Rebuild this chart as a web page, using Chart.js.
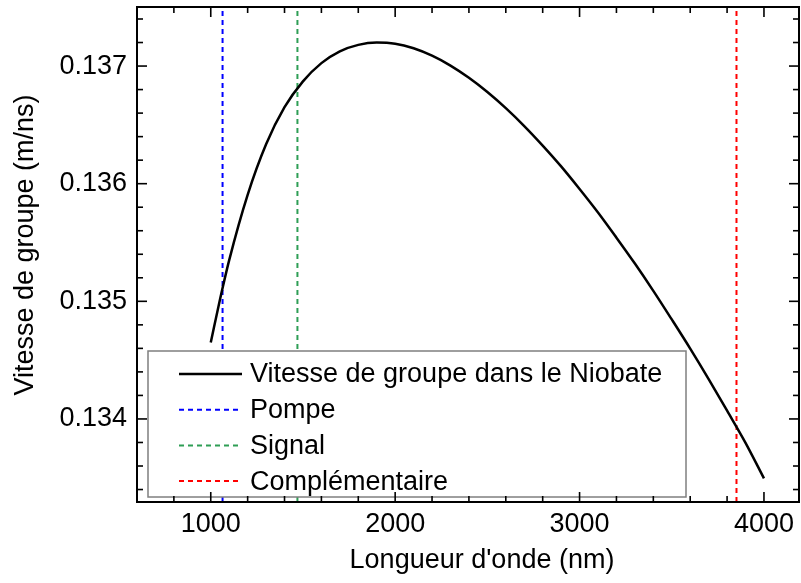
<!DOCTYPE html>
<html><head><meta charset="utf-8">
<script src="https://cdn.jsdelivr.net/npm/chart.js@4.4.0/dist/chart.umd.min.js"></script>
<style>html,body{margin:0;padding:0;background:#fff;}#wrap{width:801px;height:583px;}</style>
</head><body><div id="wrap"><canvas id="c" width="801" height="583"></canvas></div>
<script>
// ---- data ----
const wavelengths = [1000,1050,1100,1200,1300,1400,1500,1600,1700,1800,1900,2000,2100,2200,2300,2400,2500,2600,2700,2800,2900,3000,3100,3200,3300,3400,3500,3600,3700,3800,3900,4000];
const groupVelocity = [0.134650,0.135015,0.135350,0.135905,0.136335,0.136650,0.136870,0.137025,0.137125,0.137180,0.137200,0.137190,0.137151,0.137088,0.137004,0.136900,0.136779,0.136642,0.136490,0.136324,0.136147,0.135955,0.135755,0.135541,0.135321,0.135089,0.134846,0.134598,0.134339,0.134070,0.133797,0.133495];
const pumpWavelength = 1064;
const signalWavelength = 1470;
const idlerWavelength = 3851;
const seriesLabels = ['Vitesse de groupe dans le Niobate','Pompe','Signal','Complémentaire'];
const xTickValues = [1000,2000,3000,4000];
const yTickValues = [0.134,0.135,0.136,0.137];
const xTitle = "Longueur d'onde (nm)";
const yTitle = 'Vitesse de groupe (m/ns)';

const X_MIN = 600, X_MAX = 4190, Y_MIN = 0.133294, Y_MAX = 0.137502;
const FONT = '"Liberation Sans", Arial, sans-serif';
const FS = 27;

function vline(x){ return [{x:x,y:Y_MIN},{x:x,y:Y_MAX}]; }

const curve = wavelengths.map((w,i)=>({x:w,y:groupVelocity[i]}));

const framePlugin = {
  id:'frame',
  afterDatasetsDraw(chart){
    const ctx = chart.ctx;
    ctx.save();
    const bx=148, by=351, bw=538, bh=146;
    ctx.fillStyle='#fff'; ctx.fillRect(bx,by,bw,bh);
    ctx.strokeStyle='#7f7f7f'; ctx.lineWidth=1.5; ctx.setLineDash([]);
    ctx.strokeRect(bx,by,bw,bh);
    ctx.font = FS+'px '+FONT; ctx.textBaseline='middle'; ctx.textAlign='left';
    chart.data.datasets.forEach((ds,i)=>{
      const y = 374 + i*35.7;
      ctx.strokeStyle = ds.borderColor; ctx.lineWidth = ds.borderWidth;
      ctx.setLineDash(ds.borderDash||[]);
      ctx.beginPath(); ctx.moveTo(179,y); ctx.lineTo(242,y); ctx.stroke();
      ctx.setLineDash([]);
      ctx.fillStyle='#000'; ctx.fillText(ds.label, 250, y+1);
    });
    ctx.restore();
  },
  afterDraw(chart){
    const ctx = chart.ctx, a = chart.chartArea;
    const xs = chart.scales.x, ys = chart.scales.y;
    ctx.save();
    ctx.strokeStyle='#000'; ctx.setLineDash([]);
    ctx.lineWidth=1.6;
    const tick = (x1,y1,x2,y2)=>{ctx.beginPath();ctx.moveTo(x1,y1);ctx.lineTo(x2,y2);ctx.stroke();};
    for(let v=800; v<X_MAX; v+=200){
      const major = xTickValues.includes(v);
      const L = major?10:6, px = xs.getPixelForValue(v);
      tick(px,a.bottom,px,a.bottom-L);
      tick(px,a.top,px,a.top+L);
    }
    for(let k=0;;k++){
      const v = 0.1334 + k*0.0002; if(v>Y_MAX) break;
      const major = yTickValues.some(t=>Math.abs(t-v)<1e-7);
      const L = major?10:6, py = ys.getPixelForValue(v);
      tick(a.left,py,a.left+L,py);
      tick(a.right,py,a.right-L,py);
    }
    ctx.lineWidth=2;
    ctx.strokeRect(a.left,a.top,a.right-a.left,a.bottom-a.top);
    ctx.fillStyle='#000'; ctx.font = FS+'px '+FONT;
    ctx.textAlign='center'; ctx.textBaseline='middle';
    ctx.fillText(xTitle, 482, 561);
    ctx.translate(26,245); ctx.rotate(-Math.PI/2);
    ctx.fillText(yTitle, 0, 0);
    ctx.restore();
  }
};

new Chart(document.getElementById('c'), {
  type:'scatter',
  data:{datasets:[
    {label:seriesLabels[0], data:curve, showLine:true, borderColor:'#000', borderWidth:2.5, pointRadius:0, cubicInterpolationMode:'monotone', fill:false},
    {label:seriesLabels[1], data:vline(pumpWavelength), showLine:true, borderColor:'#0000ff', borderWidth:2, borderDash:[5,4], pointRadius:0},
    {label:seriesLabels[2], data:vline(signalWavelength), showLine:true, borderColor:'#2e9e55', borderWidth:2, borderDash:[5,4], pointRadius:0},
    {label:seriesLabels[3], data:vline(idlerWavelength), showLine:true, borderColor:'#ff0000', borderWidth:2, borderDash:[5,4], pointRadius:0}
  ]},
  options:{
    responsive:false, animation:false, devicePixelRatio:1,
    layout:{padding:{left:0,right:2,top:7,bottom:0}},
    plugins:{legend:{display:false}, tooltip:{enabled:false}},
    scales:{
      x:{type:'linear', min:X_MIN, max:X_MAX,
        afterBuildTicks:s=>{s.ticks = xTickValues.map(v=>({value:v}));},
        afterFit:s=>{s.height=81; s.paddingLeft=0; s.paddingRight=0;},
        grid:{display:false, drawTicks:false}, border:{display:false},
        ticks:{padding:6, color:'#000', font:{family:FONT,size:FS}, maxRotation:0, callback:v=>String(v)}},
      y:{type:'linear', min:Y_MIN, max:Y_MAX,
        afterBuildTicks:s=>{s.ticks = yTickValues.map(v=>({value:v}));},
        afterFit:s=>{s.width=137; s.paddingTop=0; s.paddingBottom=0;},
        grid:{display:false, drawTicks:false}, border:{display:false},
        ticks:{padding:10, color:'#000', font:{family:FONT,size:FS}, callback:v=>v.toFixed(3)}}
    }
  },
  plugins:[framePlugin]
});
</script></body></html>
